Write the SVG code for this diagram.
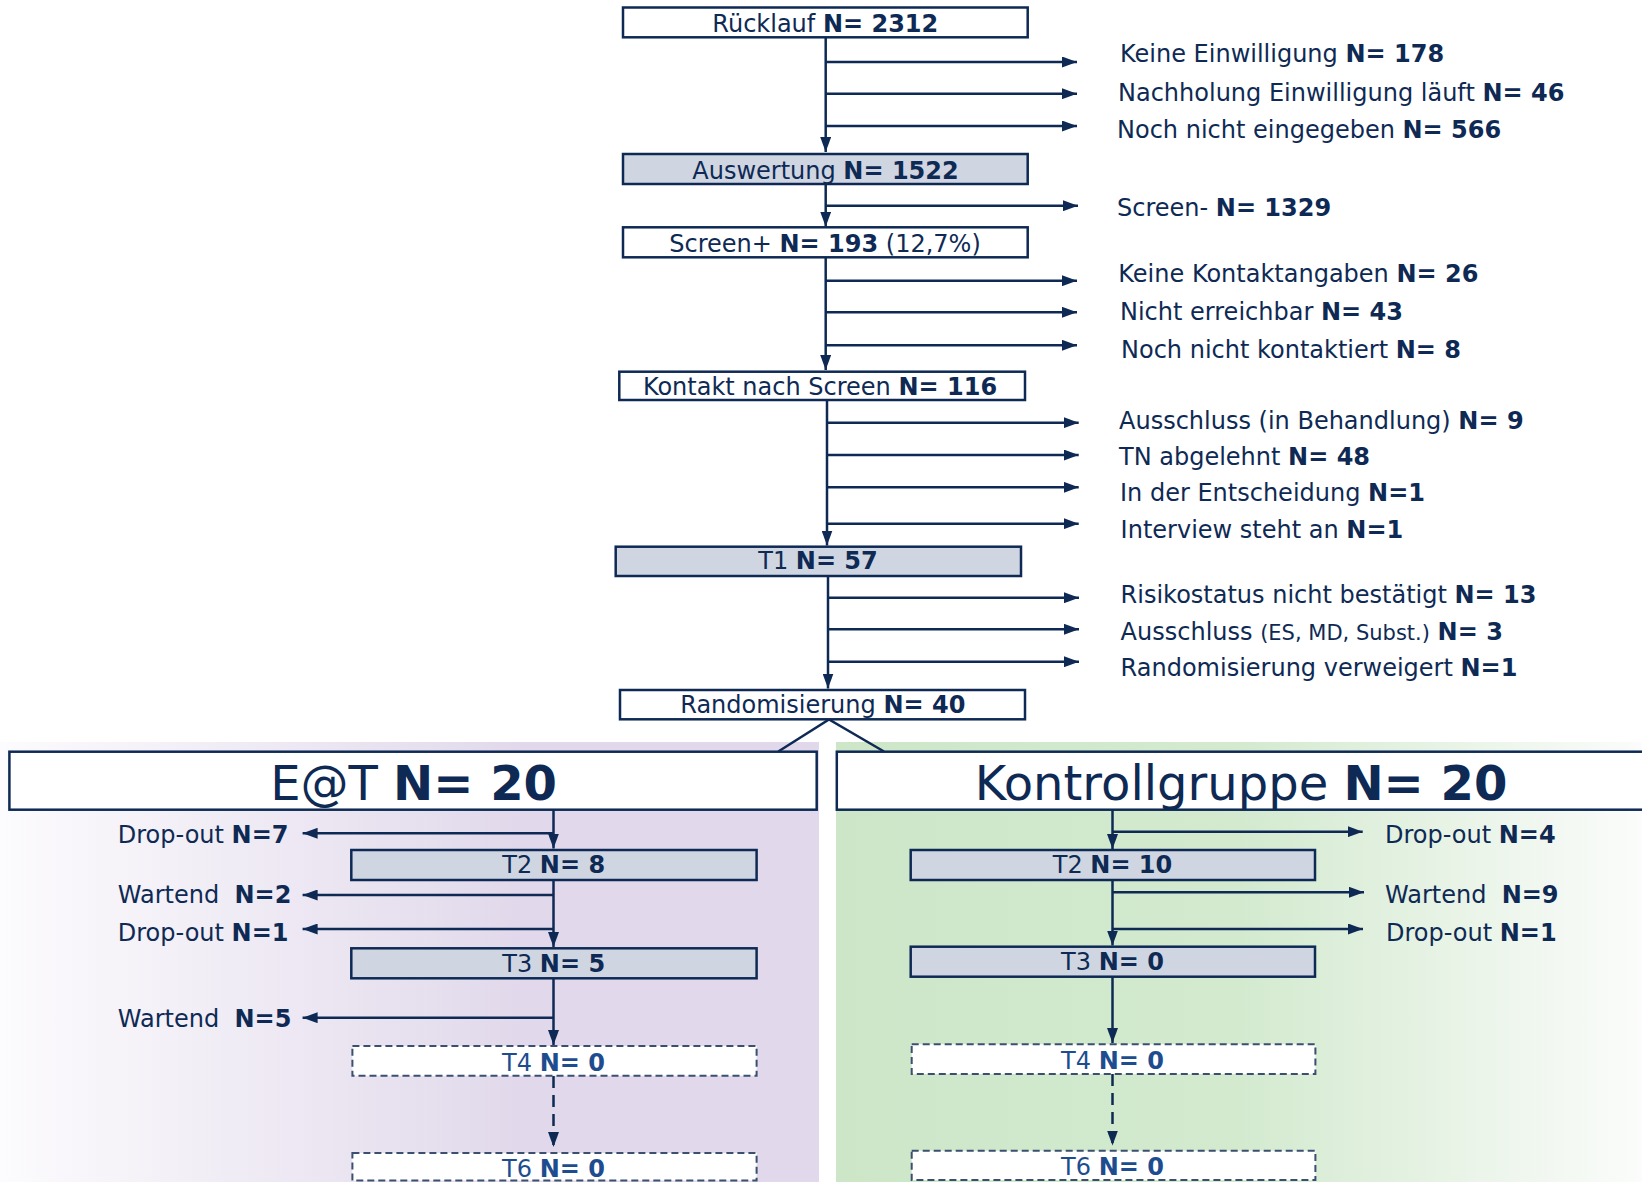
<svg xmlns="http://www.w3.org/2000/svg" width="1642" height="1182" viewBox="0 0 1642 1182">
<style>
text{font-family:"DejaVu Sans","Verdana",sans-serif;font-size:24px;fill:#0e2a54}
.b{font-weight:bold}
.mid{text-anchor:middle}
.box{fill:#ffffff;stroke:#0e2a54;stroke-width:2.5}
.sh{fill:#cfd6e2;stroke:#0e2a54;stroke-width:2.5}
.dsh{fill:#ffffff;stroke:#3b4f70;stroke-width:2;stroke-dasharray:7 4}
.big{font-size:48px}
.blue{fill:#1d4d8f}
.small{font-size:21px}
.c line,.c polyline{stroke:#0e2a54;stroke-width:2.5;fill:none}
.c .a{marker-end:url(#ah)}
.c .d{stroke-dasharray:12 7}
</style>
<defs>
<marker id="ah" markerUnits="userSpaceOnUse" markerWidth="16" markerHeight="11" refX="15" refY="5.5" orient="auto">
<path d="M0,0 L15,5.5 L0,11 z" fill="#0e2a54"/>
</marker>
<linearGradient id="gp" x1="0" y1="0" x2="819" y2="0" gradientUnits="userSpaceOnUse">
<stop offset="0" stop-color="#fcfbfd"/>
<stop offset="0.64" stop-color="#e1d9eb"/>
<stop offset="1" stop-color="#e1d9eb"/>
</linearGradient>
<linearGradient id="gg" x1="836" y1="0" x2="1642" y2="0" gradientUnits="userSpaceOnUse">
<stop offset="0" stop-color="#cde6c8"/>
<stop offset="0.5" stop-color="#d3eacf"/>
<stop offset="1" stop-color="#fbfcfb"/>
</linearGradient>
</defs>
<rect x="0" y="0" width="1642" height="1182" fill="#ffffff"/>
<g id="panels">
<rect x="0" y="742" width="819" height="440" fill="url(#gp)"/>
<rect x="836" y="742" width="806" height="440" fill="url(#gg)"/>
</g>

<g id="connectors" class="c">
<line class="a" x1="825.7" y1="37" x2="825.7" y2="152"/>
<line class="a" x1="825.7" y1="62" x2="1077" y2="62"/>
<line class="a" x1="825.7" y1="93.7" x2="1077" y2="93.7"/>
<line class="a" x1="825.7" y1="126" x2="1077" y2="126"/>
<line class="a" x1="825.7" y1="184" x2="825.7" y2="226.7"/>
<line class="a" x1="825.7" y1="205.7" x2="1078" y2="205.7"/>
<line class="a" x1="825.7" y1="257.3" x2="825.7" y2="370"/>
<line class="a" x1="825.7" y1="280.7" x2="1077" y2="280.7"/>
<line class="a" x1="825.7" y1="312.3" x2="1077" y2="312.3"/>
<line class="a" x1="825.7" y1="345.3" x2="1077" y2="345.3"/>
<line class="a" x1="827" y1="400" x2="827" y2="545.5"/>
<line class="a" x1="827" y1="422.7" x2="1078.7" y2="422.7"/>
<line class="a" x1="827" y1="455" x2="1078.7" y2="455"/>
<line class="a" x1="827" y1="487.3" x2="1078.7" y2="487.3"/>
<line class="a" x1="827" y1="523.7" x2="1078.7" y2="523.7"/>
<line class="a" x1="828" y1="576" x2="828" y2="688.5"/>
<line class="a" x1="828" y1="597.7" x2="1079" y2="597.7"/>
<line class="a" x1="828" y1="629.3" x2="1079" y2="629.3"/>
<line class="a" x1="828" y1="661.7" x2="1079" y2="661.7"/>
<polyline points="778.3,751.5 829,719.5 884,751.5"/>
<!-- E@T branch -->
<line class="a" x1="553.5" y1="810" x2="553.5" y2="848.5"/>
<line class="a" x1="553.5" y1="833.3" x2="302.6" y2="833.3"/>
<line class="a" x1="553.5" y1="880" x2="553.5" y2="947"/>
<line class="a" x1="553.5" y1="895" x2="302.6" y2="895"/>
<line class="a" x1="553.5" y1="929" x2="302.6" y2="929"/>
<line class="a" x1="553.5" y1="978.3" x2="553.5" y2="1045"/>
<line class="a" x1="553.5" y1="1017.7" x2="302.6" y2="1017.7"/>
<line class="a d" x1="553.5" y1="1076" x2="553.5" y2="1147"/>
<!-- Kontrollgruppe branch -->
<line class="a" x1="1112.5" y1="810" x2="1112.5" y2="849"/>
<line class="a" x1="1112.5" y1="831.7" x2="1362.7" y2="831.7"/>
<line class="a" x1="1112.5" y1="880" x2="1112.5" y2="945.5"/>
<line class="a" x1="1112.5" y1="892.3" x2="1364" y2="892.3"/>
<line class="a" x1="1112.5" y1="929" x2="1363" y2="929"/>
<line class="a" x1="1112.5" y1="976.7" x2="1112.5" y2="1043"/>
<line class="a d" x1="1112.5" y1="1074" x2="1112.5" y2="1145.5"/>
</g>

<g id="ruecklauf"><rect class="box" x="623" y="7.5" width="404.7" height="29.8"/>
<text class="mid" x="825.3" y="32.3">Rücklauf <tspan class="b">N= 2312</tspan></text></g>
<g id="auswertung"><rect class="sh" x="623" y="154" width="404.7" height="30"/>
<text class="mid" x="825.5" y="179.3">Auswertung <tspan class="b">N= 1522</tspan></text></g>
<g id="screenplus"><rect class="box" x="623" y="227.3" width="404.7" height="30"/>
<text class="mid" x="825" y="252.3">Screen+ <tspan class="b">N= 193</tspan> (12,7%)</text></g>
<g id="kontakt"><rect class="box" x="619.3" y="371.7" width="405.7" height="28.3"/>
<text class="mid" x="820" y="395">Kontakt nach Screen <tspan class="b">N= 116</tspan></text></g>
<g id="t1"><rect class="sh" x="615.7" y="546.7" width="405.3" height="29.3"/>
<text class="mid" x="818" y="569.3">T1 <tspan class="b">N= 57</tspan></text></g>
<g id="randomisierung"><rect class="box" x="620" y="690" width="405" height="29.3"/>
<text class="mid" x="822.8" y="713.3">Randomisierung <tspan class="b">N= 40</tspan></text></g>

<g id="exclusions">
<text x="1120" y="62.3">Keine Einwilligung <tspan class="b">N= 178</tspan></text>
<text x="1118" y="101">Nachholung Einwilligung läuft <tspan class="b">N= 46</tspan></text>
<text x="1117" y="137.7">Noch nicht eingegeben <tspan class="b">N= 566</tspan></text>
<text x="1117" y="215.7">Screen- <tspan class="b">N= 1329</tspan></text>
<text x="1118.3" y="282.3">Keine Kontaktangaben <tspan class="b">N= 26</tspan></text>
<text x="1120" y="320">Nicht erreichbar <tspan class="b">N= 43</tspan></text>
<text x="1121" y="357.7">Noch nicht kontaktiert <tspan class="b">N= 8</tspan></text>
<text x="1119" y="429">Ausschluss (in Behandlung) <tspan class="b">N= 9</tspan></text>
<text x="1119" y="465">TN abgelehnt <tspan class="b">N= 48</tspan></text>
<text x="1120" y="501">In der Entscheidung <tspan class="b">N=1</tspan></text>
<text x="1120.6" y="537.7">Interview steht an <tspan class="b">N=1</tspan></text>
<text x="1120.6" y="602.7">Risikostatus nicht bestätigt <tspan class="b">N= 13</tspan></text>
<text x="1120.6" y="640">Ausschluss <tspan class="small">(ES, MD, Subst.)</tspan> <tspan class="b">N= 3</tspan></text>
<text x="1120.6" y="676">Randomisierung verweigert <tspan class="b">N=1</tspan></text>
</g>

<g id="eat"><rect class="box" x="9.4" y="751.7" width="807.3" height="58"/>
<text class="mid big" x="413.6" y="800">E@T <tspan class="b">N= 20</tspan></text></g>
<g id="eat-t2"><rect class="sh" x="351.3" y="850" width="405.3" height="30"/>
<text class="mid" x="553.7" y="873.3">T2 <tspan class="b">N= 8</tspan></text></g>
<g id="eat-t3"><rect class="sh" x="351.3" y="948.3" width="405.3" height="30"/>
<text class="mid" x="553.7" y="971.5">T3 <tspan class="b">N= 5</tspan></text></g>
<g id="eat-t4"><rect class="dsh" x="352.4" y="1046" width="404.2" height="29.7"/>
<text class="mid blue" x="553.5" y="1070.5">T4 <tspan class="b">N= 0</tspan></text></g>
<g id="eat-t6"><rect class="dsh" x="352.4" y="1153" width="404.2" height="27.5"/>
<text class="mid blue" x="553.5" y="1176.5">T6 <tspan class="b">N= 0</tspan></text></g>
<g id="eat-labels">
<text x="117.8" y="843.3">Drop-out <tspan class="b">N=7</tspan></text>
<text x="117.8" y="902.7" xml:space="preserve">Wartend  <tspan class="b">N=2</tspan></text>
<text x="117.8" y="940.7">Drop-out <tspan class="b">N=1</tspan></text>
<text x="117.8" y="1026.7" xml:space="preserve">Wartend  <tspan class="b">N=5</tspan></text>
</g>

<g id="kontrollgruppe"><rect class="box" x="836.8" y="751.7" width="810" height="58"/>
<text class="mid big" x="1241" y="800">Kontrollgruppe <tspan class="b">N= 20</tspan></text></g>
<g id="kg-t2"><rect class="sh" x="910.7" y="850" width="404.3" height="30"/>
<text class="mid" x="1112.5" y="873.3">T2 <tspan class="b">N= 10</tspan></text></g>
<g id="kg-t3"><rect class="sh" x="910.7" y="946.7" width="404.3" height="30"/>
<text class="mid" x="1112.5" y="970">T3 <tspan class="b">N= 0</tspan></text></g>
<g id="kg-t4"><rect class="dsh" x="911.7" y="1044.3" width="403.7" height="29.7"/>
<text class="mid blue" x="1112.5" y="1068.5">T4 <tspan class="b">N= 0</tspan></text></g>
<g id="kg-t6"><rect class="dsh" x="911.7" y="1150.7" width="403.7" height="29.3"/>
<text class="mid blue" x="1112.5" y="1175">T6 <tspan class="b">N= 0</tspan></text></g>
<g id="kg-labels">
<text x="1385" y="843.3">Drop-out <tspan class="b">N=4</tspan></text>
<text x="1385" y="902.7" xml:space="preserve">Wartend  <tspan class="b">N=9</tspan></text>
<text x="1386" y="940.7">Drop-out <tspan class="b">N=1</tspan></text>
</g>
</svg>
